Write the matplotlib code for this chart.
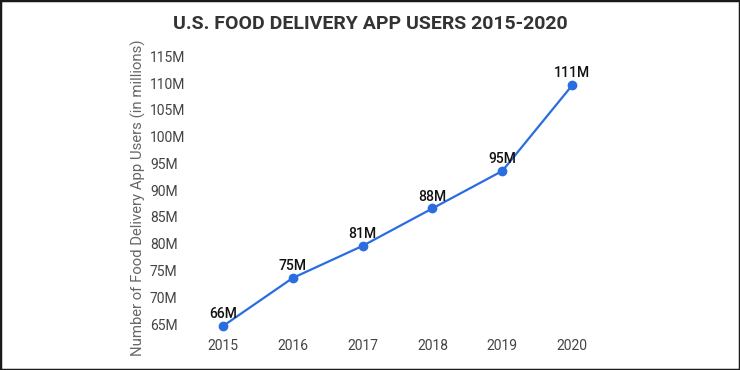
import matplotlib.pyplot as plt
from matplotlib.patches import Rectangle

plt.rcParams['font.family'] = ['Roboto', 'DejaVu Sans']

years = [2015, 2016, 2017, 2018, 2019, 2020]
users = [64.6, 73.6, 79.6, 86.6, 93.6, 109.6]
point_labels = ["66M", "75M", "81M", "88M", "95M", "111M"]
y_ticks = [65, 70, 75, 80, 85, 90, 95, 100, 105, 110, 115]
y_tick_labels = ["65M", "70M", "75M", "80M", "85M", "90M", "95M",
                 "100M", "105M", "110M", "115M"]

fig = plt.figure(figsize=(7.4, 3.7), dpi=100)
ax = fig.add_axes([190 / 740, 35 / 370, 415 / 740, 285 / 370])

ax.plot(years, users, color="#2a6de0", linewidth=1.6, marker="o",
        markersize=6, zorder=3)

for x, y, lab in zip(years, users, point_labels):
    ax.annotate(lab, (x, y), xytext=(0, 3.5), textcoords="offset points",
                ha="center", va="bottom", fontsize=10, color="#111111",
                fontweight="medium")

ax.set_xlim(2014.53, 2020.47)
ax.set_ylim(62.95, 116.2)
ax.set_xticks(years)
ax.set_xticklabels([str(y) for y in years])
ax.set_yticks(y_ticks)
ax.set_yticklabels(y_tick_labels)
for t in ax.get_yticklabels():
    t.set_horizontalalignment("left")
ax.tick_params(axis="y", length=0, pad=28.8, labelsize=10, labelcolor="#444444")
ax.tick_params(axis="x", length=0, pad=3, labelsize=10, labelcolor="#444444")

for s in ax.spines.values():
    s.set_visible(False)

ax.set_ylabel("Number of Food Delivery App Users (in millions)", fontsize=10.7,
              color="#666666")
ax.yaxis.set_label_coords(-0.105, 0.48)

fig.text(0.5, 0.935, "U.S. FOOD DELIVERY APP USERS 2015-2020", ha="center",
         va="center", fontsize=14, fontweight="bold", color="#333333")

fig.patches.append(Rectangle((0, 0), 1, 1, transform=fig.transFigure,
                             fill=False, edgecolor="#1a1a1a", linewidth=2.5))

plt.savefig("out.png", dpi=100)
